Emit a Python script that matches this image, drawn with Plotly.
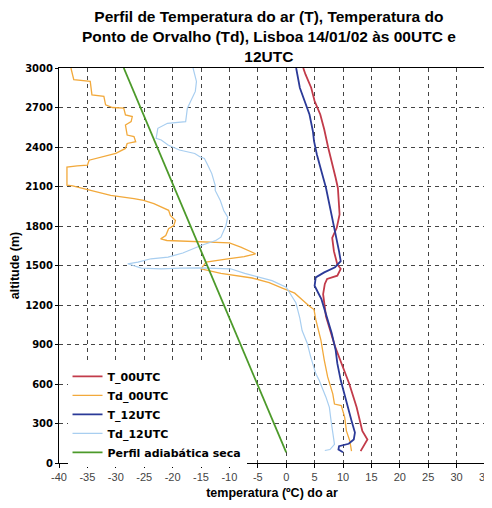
import plotly.graph_objects as go

# ---------------- data ----------------
# T_00UTC : air temperature profile at 00 UTC
t00_alt = [90, 179, 244, 423, 602, 731, 885, 1115, 1282, 1360, 1398, 1423, 1475, 1508, 1609, 1710,
           1786, 1887, 1988, 2089, 2166, 2267, 2394, 2533, 2647, 2749, 2850, 2951, 3000]
t00_temp = [13.1, 14.3, 13.4, 12.4, 11.1, 10.0, 8.6, 7.0, 6.5, 6.8, 7.2, 9.0, 9.6, 9.0, 8.4, 8.1,
            8.9, 9.4, 9.3, 9.1, 8.7, 8.1, 7.4, 6.7, 6.0, 5.0, 4.4, 3.4, 3.0]

# Td_00UTC : dew point at 00 UTC
td00_alt = [90, 167, 244, 346, 436, 448, 525, 654, 782, 936, 1090, 1165, 1195, 1240, 1290, 1330,
            1370, 1405, 1440, 1475, 1525, 1551, 1568, 1589, 1640, 1672, 1680, 1685, 1690, 1702,
            1728, 1779, 1804, 1842, 1880, 1919, 1970, 1995, 2008, 2033, 2071, 2105, 2110, 2247,
            2257, 2262, 2300, 2326, 2351, 2389, 2427, 2440, 2479, 2491, 2567, 2593, 2631, 2644,
            2695, 2700, 2720, 2784, 2796, 2898, 2911, 3000]
td00_temp = [11.5, 11.2, 10.6, 10.3, 9.7, 8.5, 8.2, 7.3, 6.7, 6.1, 5.2, 4.9, 4.0, 2.8, 1.5, -0.8,
             -3.0, -6.0, -11.5, -15.0, -14.1, -10.3, -7.4, -5.4, -8.0, -10.0, -15.0, -18.6, -21.0, -22.1,
             -21.2, -20.7, -19.8, -19.5, -20.4, -20.7, -23.3, -25.1, -26.8, -30.9, -34.4, -37.6, -38.6, -38.6,
             -36.8, -35.0, -34.7, -32.1, -30.0, -28.3, -28.0, -26.5, -26.8, -28.0, -28.3, -27.3, -27.1, -28.3,
             -28.6, -30.6, -31.8, -32.1, -34.2, -34.5, -37.4, -37.9]

# T_12UTC : air temperature profile at 12 UTC
t12_alt = [82, 102, 128, 146, 179, 231, 321, 423, 525, 628, 756, 859, 987, 1115, 1244, 1295, 1346,
           1410, 1448, 1487, 1533, 1609, 1735, 1836, 1963, 2090, 2216, 2343, 2444, 2520, 2647, 2749,
           2850, 3000]
t12_temp = [10.0, 9.2, 9.3, 11.0, 11.9, 12.1, 11.5, 10.9, 10.2, 9.6, 9.0, 8.7, 8.0, 7.1, 6.2, 5.6, 5.0,
            5.2, 6.7, 8.6, 9.6, 9.3, 8.7, 8.1, 7.6, 7.0, 6.2, 5.4, 4.9, 4.7, 4.1, 3.2, 2.4, 1.75]

# Td_12UTC : dew point at 12 UTC
td12_alt = [95, 102, 141, 218, 321, 423, 500, 628, 679, 808, 910, 1006, 1100, 1218, 1270, 1335, 1385,
            1440, 1475, 1482, 1480, 1475, 1480, 1505, 1513, 1526, 1551, 1564, 1595, 1652, 1690, 1715,
            1804, 1867, 1918, 1994, 2070, 2109, 2198, 2262, 2313, 2326, 2351, 2377, 2415, 2453, 2466,
            2542, 2580, 2593, 2695, 2822, 2898, 3000]
td12_temp = [6.8, 7.7, 8.5, 8.2, 7.9, 7.6, 7.0, 5.8, 5.2, 4.3, 3.7, 2.8, 2.4, 1.7, 1.0, 0.0, -2.5,
             -7.3, -9.8, -15.0, -18.5, -22.0, -25.5, -27.5, -27.9, -26.1, -23.8, -20.8, -18.2, -15.0, -12.4, -11.5,
             -10.6, -10.3, -11.0, -11.6, -12.5, -12.5, -13.1, -13.8, -14.4, -15.2, -16.1, -18.8, -20.8, -22.0, -22.9,
             -22.6, -20.9, -17.7, -17.4, -16.0, -15.8, -16.4]

# Perfil adiabática seca : dry adiabatic profile (end points)
dry_alt = [80, 3000]
dry_temp = [0.0, -28.6]

series_names = ["T_00UTC", "Td_00UTC", "T_12UTC", "Td_12UTC", "Perfil adiabática seca"]
series_colors = ["#c23b4a", "#f2a93b", "#2b3a98", "#a8cef0", "#4c9a2a"]
series_widths = [1.8, 1.3, 1.8, 1.2, 1.8]

x_ticks = [-40, -35, -30, -25, -20, -15, -10, -5, 0, 5, 10, 15, 20, 25, 30, 35]
x_tick_labels = ["-40", "-35", "-30", "-25", "-20", "-15", "-10", "-5", "0", "5", "10", "15", "20", "25", "30", "35"]
y_ticks = [0, 300, 600, 900, 1200, 1500, 1800, 2100, 2400, 2700, 3000]

# ---------------- figure ----------------
fig = go.Figure()
xs = [t00_temp, td00_temp, t12_temp, td12_temp, dry_temp]
ys = [t00_alt, td00_alt, t12_alt, td12_alt, dry_alt]
for name, x, y, c, w in zip(series_names, xs, ys, series_colors, series_widths):
    fig.add_trace(go.Scatter(x=x, y=y, mode="lines", name=name,
                             line=dict(color=c, width=w), hoverinfo="skip"))

fig.update_layout(
    width=484, height=500,
    margin=dict(l=51, r=7, t=60, b=45, autoexpand=False),
    paper_bgcolor="white", plot_bgcolor="white",
    title=dict(
        text="Perfil de Temperatura do ar (T), Temperatura do<br>Ponto de Orvalho (Td), Lisboa 14/01/02 às 00UTC e<br>12UTC",
        font=dict(family="Liberation Sans, Arial", size=15.5, color="black", weight="bold"),
        x=0.539, xanchor="center", y=0.972, yanchor="bottom"),
    showlegend=True,
    legend=dict(x=0.02, y=-0.01, xanchor="left", yanchor="bottom",
                bgcolor="white", borderwidth=0,
                font=dict(family="DejaVu Sans", size=11, color="black", weight="bold"),
                tracegroupgap=0),
    xaxis=dict(range=[-40, 35], tickvals=x_ticks, ticktext=x_tick_labels, automargin=False,
               showgrid=True, gridcolor="#444", griddash="4px,4px", gridwidth=1,
               zeroline=False, showline=True, linecolor="black", linewidth=1, mirror=True,
               ticks="outside", ticklen=4, tickcolor="black",
               tickfont=dict(family="Liberation Sans, Arial", size=11, color="#444"),
               title=dict(text="temperatura (ºC) do ar", standoff=6,
                          font=dict(family="Liberation Sans, Arial", size=12.5, color="black", weight="bold"))),
    yaxis=dict(range=[0, 3000], tickvals=y_ticks, automargin=False,
               showgrid=True, gridcolor="#444", griddash="4px,4px", gridwidth=1,
               zeroline=False, showline=True, linecolor="black", linewidth=1, mirror=True,
               ticks="outside", ticklen=3, tickcolor="black",
               tickfont=dict(family="DejaVu Sans", size=10, color="black", weight="bold"),
               title=dict(text="altitude (m)", standoff=6,
                          font=dict(family="Liberation Sans, Arial", size=12.5, color="black", weight="bold"))),
)

fig.write_html("out.html")
